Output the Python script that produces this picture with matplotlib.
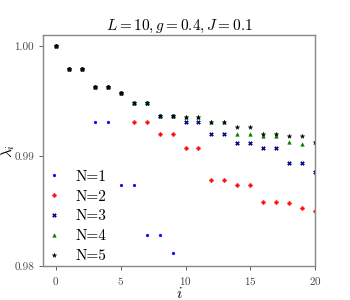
import matplotlib
matplotlib.use("Agg")
import matplotlib.pyplot as plt
import numpy as np

plt.rcParams['font.family'] = 'serif'
plt.rcParams['font.serif'] = ['cmr10']
plt.rcParams['mathtext.fontset'] = 'cm'
plt.rcParams['axes.formatter.use_mathtext'] = True

# eigenvalues, index i = 0..len-1
lam_n1 = [1.0, .99795, .99795, .99312, .99312, .98733, .98733, .98287, .98287, .98115]
lam_n2 = [1.0, .99795, .99795, .99629, .99629, .99572, .99312, .99312, .99201, .99201,
          .99071, .99071, .98787, .98787, .98733, .98733, .98582, .98582, .98575, .98528, .98504]
lam_n3 = [1.0, .99795, .99795, .99629, .99629, .99572, .99481, .99481, .99367, .99367,
          .99312, .99312, .99201, .99201, .99116, .99116, .99071, .99071, .98935, .98935, .98853]
lam_n4 = [1.0, .99795, .99795, .99629, .99629, .99572, .99481, .99481, .99367, .99367,
          .99357, .99357, .99312, .99312, .99201, .99201, .99186, .99186, .99125, .99110, .99125]
lam_n5 = [1.0, .99795, .99795, .99629, .99629, .99572, .99481, .99481, .99367, .99367,
          .99357, .99357, .99312, .99312, .99261, .99261, .99201, .99201, .99186, .99186, .99125]

series = [lam_n1, lam_n2, lam_n3, lam_n4, lam_n5]
labels = ['N=1', 'N=2', 'N=3', 'N=4', 'N=5']
markers = ['o', 'P', 'X', '^', '*']
colors = ['#0000ff', '#ff0000', '#00008b', 'green', 'black']
sizes = [2.0, 2.8, 2.8, 2.6, 3.3]

fig = plt.figure(figsize=(3.5, 3.0), dpi=100)
ax = fig.add_axes([0.123, 0.113, 0.777, 0.77])

for lam, lab, m, c, s in zip(series, labels, markers, colors, sizes):
    ax.plot(np.arange(len(lam)), lam, linestyle='none', marker=m, color=c,
            markersize=s, markeredgewidth=0.3, label=lab)

ax.set_xlim(-1, 20)
ax.set_ylim(0.98, 1.001)
ax.set_xticks([0, 5, 10, 15, 20])
ax.set_yticks([0.98, 0.99, 1.00])
ax.set_yticklabels(['0.98', '0.99', '1.00'])
ax.tick_params(labelsize=8, colors='#444444', length=3, width=0.6)
for sp in ax.spines.values():
    sp.set_color('#888888')
    sp.set_linewidth(1.0)

ax.set_title(r'$L = 10, g = 0.4, J = 0.1$', fontsize=11, pad=4)
ax.set_xlabel(r'$i$', fontsize=11, labelpad=-1)
ax.set_ylabel(r'$\lambda_i$', fontsize=11, labelpad=-2)

ax.legend(loc='lower left', frameon=False, fontsize=11, handlelength=1.0,
          handletextpad=0.95, borderaxespad=0.0, borderpad=0.2, labelspacing=0.4,
          markerscale=1.0)

fig.savefig('out.png', dpi=100)
